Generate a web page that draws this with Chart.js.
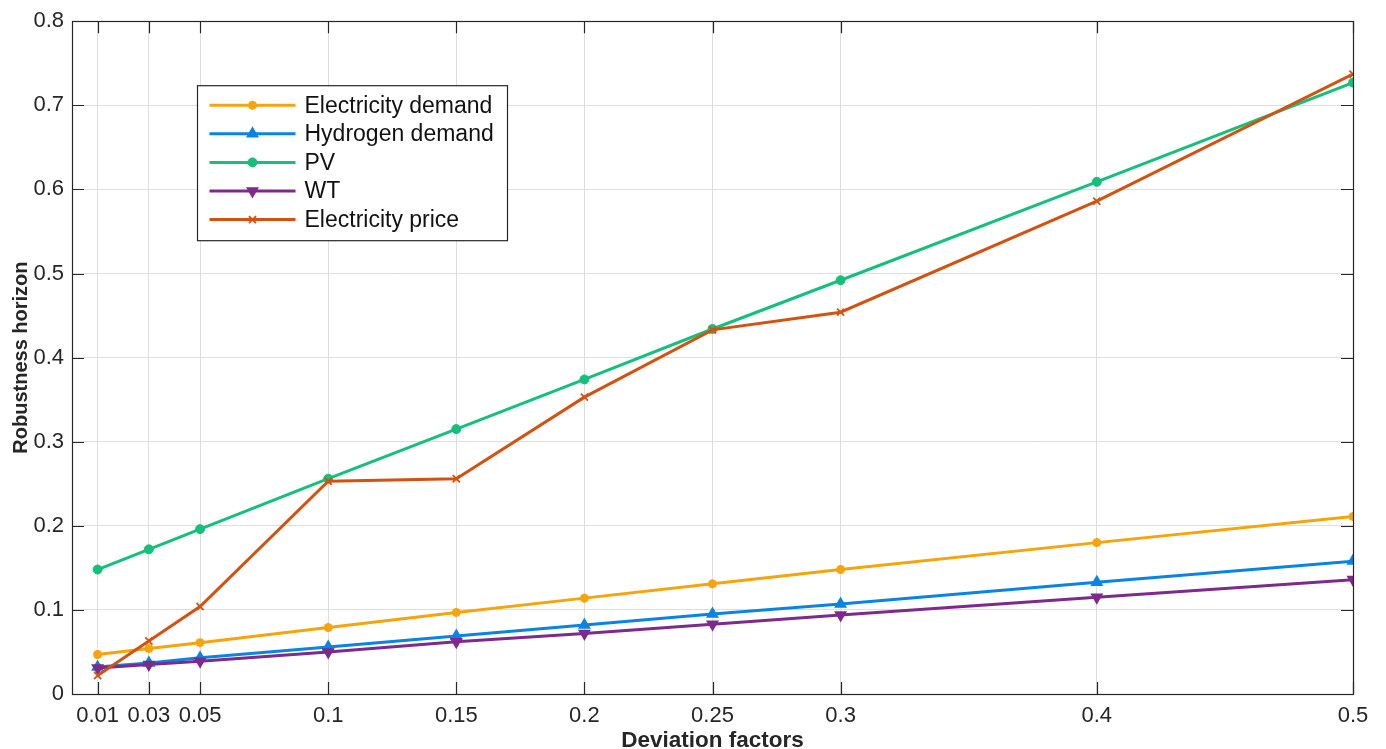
<!DOCTYPE html>
<html>
<head>
<meta charset="utf-8">
<script src="https://cdn.jsdelivr.net/npm/chart.js@4.4.0/dist/chart.umd.min.js"></script>
<style>
  html, body { margin: 0; padding: 0; background: #ffffff; }
  #wrap { width: 1386px; height: 749px; position: relative; }
</style>
</head>
<body>
<div id="wrap"><canvas id="c"></canvas></div>
<script>
// Deviation factors on the x axis and the robustness horizon of each uncertain parameter
const deviationFactors = [0.01, 0.03, 0.05, 0.1, 0.15, 0.2, 0.25, 0.3, 0.4, 0.5];
const electricityDemand = [0.047, 0.054, 0.061, 0.079, 0.097, 0.114, 0.131, 0.148, 0.180, 0.211];
const hydrogenDemand    = [0.032, 0.037, 0.043, 0.056, 0.069, 0.082, 0.095, 0.107, 0.133, 0.158];
const pvHorizon         = [0.148, 0.172, 0.196, 0.256, 0.315, 0.374, 0.434, 0.492, 0.609, 0.727];
const wtHorizon         = [0.031, 0.035, 0.039, 0.050, 0.062, 0.072, 0.083, 0.094, 0.115, 0.136];
const electricityPrice  = [0.022, 0.063, 0.104, 0.253, 0.256, 0.353, 0.433, 0.454, 0.586, 0.737];

const xTickValues = [0.01, 0.03, 0.05, 0.1, 0.15, 0.2, 0.25, 0.3, 0.4, 0.5];
const yTickValues = [0, 0.1, 0.2, 0.3, 0.4, 0.5, 0.6, 0.7, 0.8];

const seriesNames = ['Electricity demand', 'Hydrogen demand', 'PV', 'WT', 'Electricity price'];
const seriesValues = [electricityDemand, hydrogenDemand, pvHorizon, wtHorizon, electricityPrice];

const FONT = '"Liberation Sans", Arial, Helvetica, sans-serif';
const AXIS_COLOR = '#262626';

// Marker look per series
const seriesStyle = [
  { color: '#F5A40C', point: 'star',     radius: 4.5, pbw: 2.8, rot: 0 },
  { color: '#0A84E3', point: 'triangle', radius: 6,   pbw: 1.5, rot: 0 },
  { color: '#14C07C', point: 'circle',   radius: 4.5, pbw: 1,   rot: 0 },
  { color: '#7E2A8C', point: 'triangle', radius: 6,   pbw: 1.5, rot: 180 },
  { color: '#D4520F', point: 'crossRot', radius: 5,   pbw: 1.8, rot: 0 }
];

const datasets = seriesNames.map((name, i) => ({
  label: name,
  data: deviationFactors.map((x, k) => ({ x: x, y: seriesValues[i][k] })),
  borderColor: seriesStyle[i].color,
  backgroundColor: seriesStyle[i].color,
  pointBackgroundColor: seriesStyle[i].color,
  pointBorderColor: seriesStyle[i].color,
  borderWidth: 3,
  pointStyle: seriesStyle[i].point,
  pointRadius: seriesStyle[i].radius,
  pointBorderWidth: seriesStyle[i].pbw,
  pointRotation: seriesStyle[i].rot,
  tension: 0,
  order: seriesNames.length - i
}));

function drawMarker(ctx, st, x, y) {
  const r = st.radius;
  ctx.save();
  ctx.strokeStyle = st.color;
  ctx.fillStyle = st.color;
  ctx.lineWidth = st.pbw;
  ctx.beginPath();
  if (st.point === 'circle') {
    ctx.arc(x, y, r, 0, Math.PI * 2);
    ctx.fill(); ctx.stroke();
  } else if (st.point === 'triangle') {
    const base = st.rot * Math.PI / 180;
    for (let k = 0; k < 3; k++) {
      const a = base + k * 2 * Math.PI / 3;
      const px = x + Math.sin(a) * r, py = y - Math.cos(a) * r;
      if (k === 0) ctx.moveTo(px, py); else ctx.lineTo(px, py);
    }
    ctx.closePath(); ctx.fill(); ctx.stroke();
  } else if (st.point === 'star') {
    for (let k = 0; k < 4; k++) {
      const a = k * Math.PI / 4;
      ctx.moveTo(x - Math.cos(a) * r, y - Math.sin(a) * r);
      ctx.lineTo(x + Math.cos(a) * r, y + Math.sin(a) * r);
    }
    ctx.stroke();
  } else {
    const d = r * Math.SQRT1_2;
    ctx.moveTo(x - d, y - d); ctx.lineTo(x + d, y + d);
    ctx.moveTo(x + d, y - d); ctx.lineTo(x - d, y + d);
    ctx.stroke();
  }
  ctx.restore();
}

// Box outline with inward tick marks on all four sides
const axesBox = {
  id: 'axesBox',
  afterDatasetsDraw(chart) {
    const { ctx, chartArea: a, scales } = chart;
    const tl = 12;
    ctx.save();
    ctx.strokeStyle = AXIS_COLOR;
    ctx.lineWidth = 1.2;
    ctx.beginPath();
    xTickValues.forEach(v => {
      const px = Math.round(scales.x.getPixelForValue(v)) + 0.5;
      ctx.moveTo(px, a.bottom); ctx.lineTo(px, a.bottom - tl);
      ctx.moveTo(px, a.top); ctx.lineTo(px, a.top + tl);
    });
    yTickValues.forEach(v => {
      const py = Math.round(scales.y.getPixelForValue(v)) + 0.5;
      ctx.moveTo(a.left, py); ctx.lineTo(a.left + tl, py);
      ctx.moveTo(a.right, py); ctx.lineTo(a.right - tl, py);
    });
    ctx.stroke();
    ctx.strokeRect(Math.round(a.left) + 0.5, Math.round(a.top) + 0.5,
                   Math.round(a.right - a.left), Math.round(a.bottom - a.top));
    ctx.restore();
  }
};

// Legend box in the upper left of the plot
const insetLegend = {
  id: 'insetLegend',
  afterDraw(chart) {
    const { ctx, chartArea: a } = chart;
    const bx = a.left + 125.5, by = a.top + 64.5, bw = 310, bh = 155;
    const rowGap = 28.6, firstRow = by + 19.5;
    ctx.save();
    ctx.fillStyle = '#ffffff';
    ctx.fillRect(bx, by, bw, bh);
    ctx.strokeStyle = AXIS_COLOR;
    ctx.lineWidth = 1.2;
    ctx.strokeRect(bx, by, bw, bh);
    ctx.font = '23px ' + FONT;
    ctx.textBaseline = 'middle';
    ctx.textAlign = 'left';
    seriesNames.forEach((name, i) => {
      const y = firstRow + i * rowGap;
      const st = seriesStyle[i];
      ctx.strokeStyle = st.color;
      ctx.lineWidth = 3;
      ctx.beginPath();
      ctx.moveTo(bx + 12, y); ctx.lineTo(bx + 98, y);
      ctx.stroke();
      drawMarker(ctx, st, bx + 55, y);
      ctx.fillStyle = '#111111';
      ctx.fillText(name, bx + 107, y + 1);
    });
    ctx.restore();
  }
};

new Chart(document.getElementById('c'), {
  type: 'line',
  data: { datasets: datasets },
  plugins: [axesBox, insetLegend],
  options: {
    responsive: true,
    maintainAspectRatio: false,
    animation: false,
    layout: { padding: { top: 18, right: 33, left: 0, bottom: 0 } },
    plugins: { legend: { display: false }, tooltip: { enabled: false } },
    scales: {
      x: {
        type: 'linear',
        min: 0,
        max: 0.5,
        afterBuildTicks(scale) { scale.ticks = xTickValues.map(v => ({ value: v })); },
        afterFit(scale) { scale.height = 55; },
        grid: { color: '#dedede', lineWidth: 1, drawTicks: false },
        border: { display: false },
        ticks: {
          padding: 9,
          autoSkip: false,
          maxRotation: 0,
          color: AXIS_COLOR,
          font: { family: FONT, size: 22 },
          callback: v => String(v)
        },
        title: {
          display: true,
          text: 'Deviation factors',
          color: AXIS_COLOR,
          padding: { top: 0, bottom: -3 },
          font: { family: FONT, size: 22.5, weight: 'bold', lineHeight: 1 }
        }
      },
      y: {
        type: 'linear',
        min: 0,
        max: 0.8,
        afterBuildTicks(scale) { scale.ticks = yTickValues.map(v => ({ value: v })); },
        afterFit(scale) { scale.width = 72; },
        grid: { color: '#dedede', lineWidth: 1, drawTicks: false },
        border: { display: false },
        ticks: {
          padding: 8,
          color: AXIS_COLOR,
          font: { family: FONT, size: 22 },
          callback: v => String(v)
        },
        title: {
          display: true,
          text: 'Robustness horizon',
          color: AXIS_COLOR,
          padding: { top: 11, bottom: 0 },
          font: { family: FONT, size: 20, weight: 'bold', lineHeight: 1 }
        }
      }
    }
  }
});
</script>
</body>
</html>
